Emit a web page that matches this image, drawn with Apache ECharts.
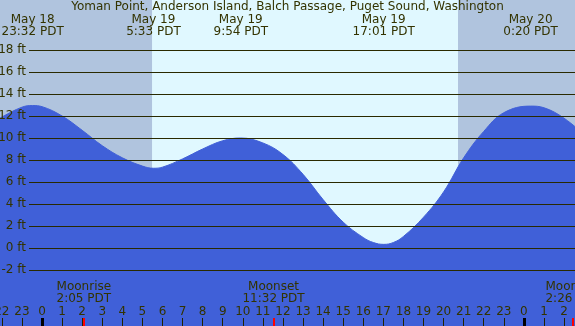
<!DOCTYPE html>
<html>
<head>
<meta charset="utf-8">
<title>Tide chart</title>
<script src="https://cdn.jsdelivr.net/npm/echarts@6/dist/echarts.min.js"></script>
<style>
    html, body { margin: 0; padding: 0; background: #b0c4de; }
    .chart { width: 575px; height: 326px; }
</style>
</head>
<body>
<div class="tide"><div class="chart"></div></div>
<script>
// tide heights, hours from May 19 00:00 PDT
var tideHours = [-3, -2, -1, -0.47, 0, 1, 2, 3, 4, 5, 5.55, 6, 7, 8, 9, 9.9, 11, 12, 13, 14, 15, 16, 16.5, 17.02, 17.5, 18, 19, 20, 21, 22, 23, 24.33, 25, 26, 27];
var tideFeet = [10.8, 11.9, 12.8, 12.95, 12.85, 12.0, 10.7, 9.3, 8.2, 7.45, 7.25, 7.35, 8.1, 9.0, 9.75, 10.0, 9.55, 8.5, 6.7, 4.4, 2.35, 0.95, 0.5, 0.33, 0.5, 1.05, 2.8, 5.1, 8.2, 10.6, 12.3, 12.9, 12.75, 11.8, 10.3];

// high / low tide labels
var eventHours = [-0.467, 5.55, 9.9, 17.017, 24.333];
var eventDates = ["May 18", "May 19", "May 19", "May 19", "May 20"];
var eventTimes = ["23:32 PDT", "5:33 PDT", "9:54 PDT", "17:01 PDT", "0:20 PDT"];

// moon
var moonHours = [2.083, 11.533, 26.433];
var moonNames = ["Moonrise", "Moonset", "Moonrise"];
var moonTimes = ["2:05 PDT", "11:32 PDT", "2:26 PDT"];

// sun (day band)
var sunrise = 5.48;
var sunset = 20.72;

// hour ticks and labels
var hourTicks = [-2, -1, 0, 1, 2, 3, 4, 5, 6, 7, 8, 9, 10, 11, 12, 13, 14, 15, 16, 17, 18, 19, 20, 21, 22, 23, 24, 25, 26];
var midnightTicks = [0, 24];

(function () {
    var myChart = echarts.init(document.querySelector(".tide .chart"));
    var ink = "#333300";
    var font = "DejaVu Sans";
    var xMin = -2.092, xMax = 26.545;

    var tideData = [];
    for (var i = 0; i < tideHours.length; i++) {
        tideData.push([tideHours[i], tideFeet[i]]);
    }

    function findIndex(list, v) {
        for (var k = 0; k < list.length; k++) {
            if (Math.abs(list[k] - v) < 0.01) return k;
        }
        return -1;
    }

    var baseAxis = {
        type: "value",
        gridIndex: 0,
        min: xMin,
        max: xMax,
        z: 10,
        axisLine: {show: false, onZero: false},
        splitLine: {show: false}
    };

    var option = {
        animation: false,
        backgroundColor: "#b0c4de",
        title: {
            text: "Yoman Point, Anderson Island, Balch Passage, Puget Sound, Washington",
            left: "center",
            top: 0,
            padding: [1, 0, 0, 0],
            textStyle: {color: ink, fontSize: 12, fontWeight: "normal", fontFamily: font}
        },
        grid: [
            {left: 0, right: 0, top: 0, bottom: 0, containLabel: false, outerBoundsMode: "none"},
            {left: 29, right: 0, top: 50, bottom: 56, containLabel: false, outerBoundsMode: "none"}
        ],
        xAxis: [
            // hour labels + ticks
            Object.assign({}, baseAxis, {
                position: "bottom",
                axisTick: {show: true, inside: true, length: 8, customValues: hourTicks, lineStyle: {color: "#222200", width: 1}},
                axisLabel: {
                    show: true, inside: true, margin: 8, customValues: hourTicks,
                    color: ink, fontSize: 12, fontFamily: font, lineHeight: 12,
                    formatter: function (v) { return String(((Math.round(v) % 24) + 24) % 24); }
                }
            }),
            // moon labels + red ticks
            Object.assign({}, baseAxis, {
                position: "bottom",
                axisTick: {show: true, inside: true, length: 8, customValues: moonHours, lineStyle: {color: "#ff0000", width: 2}},
                axisLabel: {
                    show: true, inside: true, margin: 21, customValues: moonHours,
                    color: ink, fontSize: 12, fontFamily: font, lineHeight: 12,
                    formatter: function (v) {
                        var k = findIndex(moonHours, v);
                        return k < 0 ? "" : moonNames[k] + "\n" + moonTimes[k];
                    }
                }
            }),
            // midnight marks
            Object.assign({}, baseAxis, {
                position: "bottom",
                axisTick: {show: true, inside: true, length: 8, customValues: midnightTicks, lineStyle: {color: "#000000", width: 3}},
                axisLabel: {show: false}
            }),
            // tide event labels at the top
            Object.assign({}, baseAxis, {
                position: "top",
                axisTick: {show: false},
                axisLabel: {
                    show: true, inside: true, margin: 14, customValues: eventHours,
                    color: ink, fontSize: 12, fontFamily: font, lineHeight: 12,
                    formatter: function (v) {
                        var k = findIndex(eventHours, v);
                        return k < 0 ? "" : eventDates[k] + "\n" + eventTimes[k];
                    }
                }
            }),
            {type: "value", gridIndex: 1, min: 0, max: 1, show: false}
        ],
        yAxis: [
            {type: "value", gridIndex: 0, min: -78 / 11, max: 248 / 11, show: false},
            {
                type: "value",
                gridIndex: 1,
                min: -2,
                max: 18,
                interval: 2,
                z: 10,
                axisLine: {show: false, onZero: false},
                axisTick: {show: false},
                axisLabel: {
                    margin: 3,
                    color: ink,
                    fontSize: 12,
                    fontFamily: font,
                    formatter: "{value} ft"
                },
                splitLine: {lineStyle: {color: "#2a2a00", width: 1}}
            }
        ],
        series: [
            {
                // night / day bands
                type: "line",
                xAxisIndex: 0,
                yAxisIndex: 0,
                z: 1,
                silent: true,
                data: [],
                markArea: {
                    silent: true,
                    data: [
                        [{xAxis: -3, itemStyle: {color: "#b0c4de"}}, {xAxis: sunrise}],
                        [{xAxis: sunrise, itemStyle: {color: "#e0f8ff"}}, {xAxis: sunset}],
                        [{xAxis: sunset, itemStyle: {color: "#b0c4de"}}, {xAxis: 28}]
                    ]
                }
            },
            {
                name: "Tide",
                type: "line",
                xAxisIndex: 0,
                yAxisIndex: 0,
                z: 3,
                smooth: 0.4,
                showSymbol: false,
                symbol: "none",
                lineStyle: {color: "#4060d8", width: 1},
                areaStyle: {color: "#4060d8", opacity: 1, origin: "start"},
                data: tideData
            }
        ]
    };
    myChart.setOption(option);
    window.addEventListener("resize", function () {
        myChart.resize();
    });
})();
</script>
</body>
</html>
